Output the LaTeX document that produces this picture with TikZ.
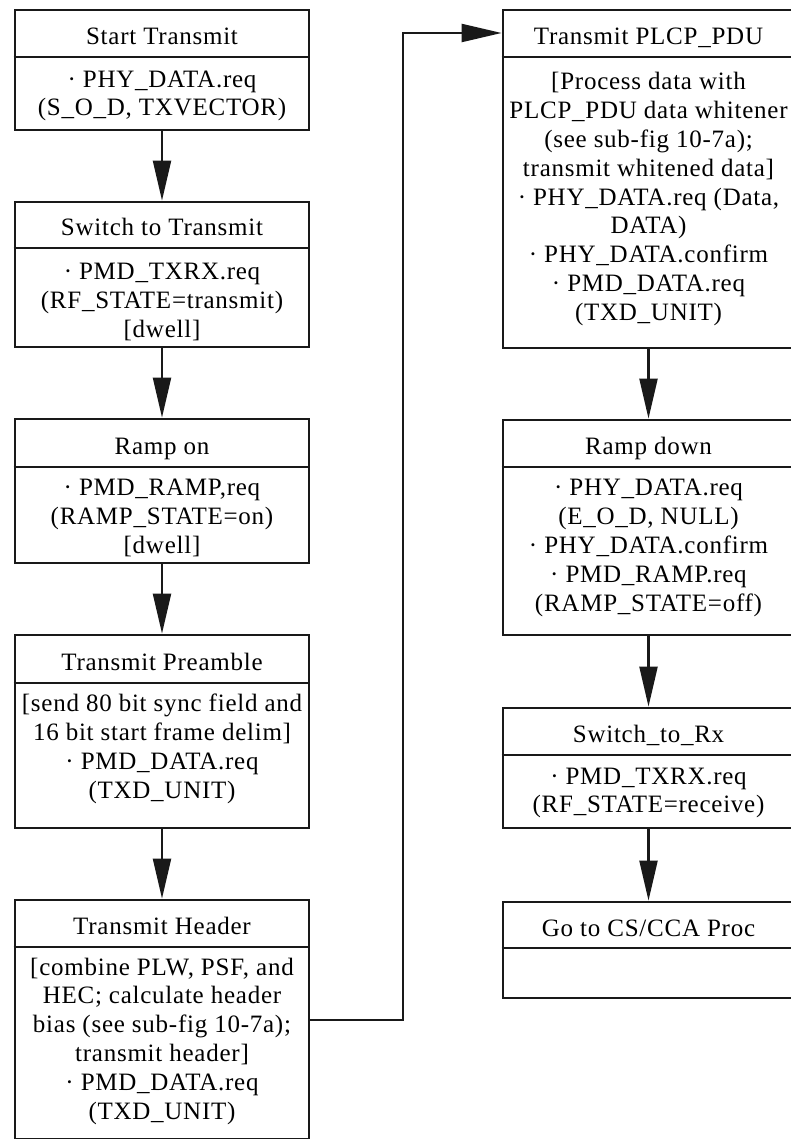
\documentclass[tikz,border=0pt]{standalone}
\usepackage{fontspec}
\setmainfont{Liberation Serif}[LetterSpace=3]
\usetikzlibrary{arrows.meta}
\tikzset{
  frame/.style={draw=black!90, line width=2.8pt, inner sep=0pt},
  frameline/.style={draw=black!90, line width=2.8pt},
  titletext/.style={inner sep=0pt, text height=22pt, text depth=0pt, font=\fontsize{25}{29}\selectfont, text=black},
  bodytext/.style={inner sep=0pt, align=center, font=\fontsize{25}{28.8}\selectfont, text=black},
  conn/.style={draw=black!90, line width=2.2pt, -{Triangle[length=40pt,width=18pt]}},
}
% name, left, right, top, divider, bottom, title, body, body centre
\newcommand\flowbox[9]{%
  \node[frame, minimum width={(#3)-(#2)}, minimum height={(#6)-(#4)}] (#1) at ({((#2)+(#3))/2},{((#4)+(#6))/2}) {};
  \draw[frameline] (#1.west |- 0,#5) -- (#1.east |- 0,#5);
  \node[titletext] (#1T) at (#1.center |- 0,{((#4)+(#5))/2}) {#7};
  \node[bodytext] (#1B) at (#1.center |- 0,#9) {#8};
}
\begin{document}
\begin{tikzpicture}[x=1pt,y=-1pt]
\fill[white] (0,0) rectangle (791,1139);
\useasboundingbox (0,0) rectangle (791,1139);

\flowbox{start}{15}{309}{10}{57}{130}{Start Transmit}{· PHY\_DATA.req\\(S\_O\_D, TXVECTOR)}{96}
\flowbox{switch}{15}{309}{202}{248}{347}{Switch to Transmit}{· PMD\_TXRX.req\\(RF\_STATE=transmit)\\{}[dwell]}{302}
\flowbox{rampon}{15}{309}{419}{467}{563}{Ramp on}{· PMD\_RAMP,req\\(RAMP\_STATE=on)\\{}[dwell]}{518}
\flowbox{preamble}{15}{309}{635}{683}{828}{Transmit Preamble}{[send 80 bit sync field and\\16 bit start frame delim]\\· PMD\_DATA.req\\(TXD\_UNIT)}{749}
\flowbox{header}{15}{309}{900}{947}{1139}{Transmit Header}{[combine PLW, PSF, and\\HEC; calculate header\\bias (see sub-fig 10-7a);\\transmit header]\\· PMD\_DATA.req\\(TXD\_UNIT)}{1041}

\flowbox{plcp}{503}{794}{10}{57}{348}{Transmit PLCP\_PDU}{[Process data with\\PLCP\_PDU data whitener\\(see sub-fig 10-7a);\\transmit whitened data]\\· PHY\_DATA.req (Data,\\DATA)\\· PHY\_DATA.confirm\\· PMD\_DATA.req\\(TXD\_UNIT)}{199}
\flowbox{rampdown}{503}{794}{420}{467}{635}{Ramp down}{· PHY\_DATA.req\\(E\_O\_D, NULL)\\· PHY\_DATA.confirm\\· PMD\_RAMP.req\\(RAMP\_STATE=off)}{548}
\flowbox{torx}{503}{794}{708}{755}{828}{Switch\_to\_Rx}{· PMD\_TXRX.req\\(RF\_STATE=receive)}{793}
\node[frame, minimum width=291, minimum height=96] (cs) at (648.5,950) {};
\draw[frameline] (cs.west |- 0,948) -- (cs.east |- 0,948);
\node[titletext] (csT) at (cs.center |- 0,925) {Go to CS/CCA Proc};

\draw[conn] (start.south) -- (switch.north);
\draw[conn] (switch.south) -- (rampon.north);
\draw[conn] (rampon.south) -- (preamble.north);
\draw[conn] (preamble.south) -- (header.north);
\coordinate (bendA) at (403,1020);
\coordinate (bendB) at (403,33);
\draw[conn] (header.east |- bendA) -- (bendA) -- (bendB) -- (plcp.west |- bendB);
\draw[conn] (plcp.south) -- (rampdown.north);
\draw[conn] (rampdown.south) -- (torx.north);
\draw[conn] (torx.south) -- (cs.north);
\end{tikzpicture}
\end{document}
